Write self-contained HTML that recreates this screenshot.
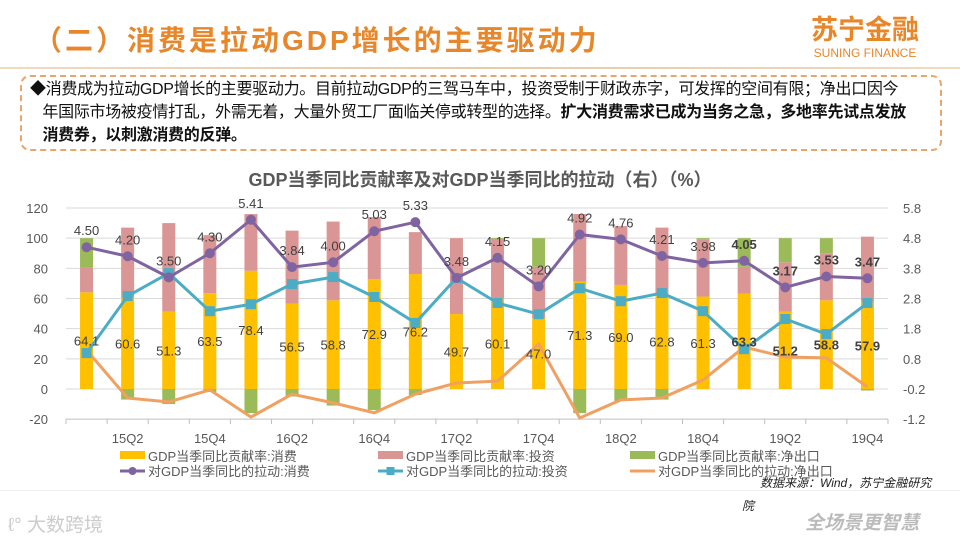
<!DOCTYPE html>
<html><head><meta charset="utf-8"><style>
body{margin:0;width:960px;height:540px;background:#fff;overflow:hidden;font-family:"Liberation Sans","Noto Sans CJK SC",sans-serif;position:relative}
.t{position:absolute}
</style></head><body>
<div class="t" style="left:34px;top:19px;font-size:28px;font-weight:bold;color:#E8862A;letter-spacing:3px;font-family:'Liberation Sans','Noto Sans CJK SC',sans-serif">（二）消费是拉动GDP增长的主要驱动力</div>
<div class="t" style="left:810px;top:14px;width:110px;text-align:center;color:#E8862A">
<div style="font-size:27px;font-weight:bold;line-height:32px">苏宁金融</div>
<div style="font-size:12px;line-height:14px">SUNING FINANCE</div></div>
<div class="t" style="left:0;top:67px;width:960px;height:2px;background:linear-gradient(90deg,#f3d9bf,#e9c8a6,#f3d9bf)"></div>
<div class="t" style="left:20px;top:75px;width:922px;height:76px;border:2px dashed #E8A66A;border-radius:10px;box-sizing:border-box"></div>
<div class="t" style="left:30px;top:78px;width:910px;font-size:16px;letter-spacing:-0.3px;line-height:23px;color:#111;white-space:nowrap">◆消费成为拉动GDP增长的主要驱动力。目前拉动GDP的三驾马车中，投资受制于财政赤字，可发挥的空间有限；净出口因今<br>&nbsp;&nbsp;&nbsp;年国际市场被疫情打乱，外需无着，大量外贸工厂面临关停或转型的选择。<b>扩大消费需求已成为当务之急，多地率先试点发放</b><br>&nbsp;&nbsp;&nbsp;<b>消费券，以刺激消费的反弹。</b></div>
<div class="t" style="left:0;top:166px;width:960px;text-align:center;font-size:18px;font-weight:bold;color:#595959">GDP当季同比贡献率及对GDP当季同比的拉动（右）（%）</div>
<svg id="chart" class="t" style="left:0;top:0" width="960" height="540"></svg>
<div class="t" style="left:760px;top:474px;font-size:12px;font-style:italic;color:#222">数据来源：Wind，苏宁金融研究</div>
<div class="t" style="left:742px;top:497px;font-size:12px;font-style:italic;color:#222">院</div>
<div class="t" style="left:0;top:490px;width:960px;height:1px;background:#eee"></div>
<div class="t" style="left:8px;top:510px;font-size:19px;color:#ccc">ℓ° 大数跨境</div>
<div class="t" style="left:805px;top:508px;font-size:19px;font-weight:bold;font-style:italic;color:#bbb">全场景更智慧</div>
<script>
const categories=["15Q1","15Q2","15Q3","15Q4","16Q1","16Q2","16Q3","16Q4","17Q1","17Q2","17Q3","17Q4","18Q1","18Q2","18Q3","18Q4","19Q1","19Q2","19Q3","19Q4"];
const consContrib=[64.1,60.6,51.3,63.5,78.4,56.5,58.8,72.9,76.2,49.7,60.1,47.0,71.3,69.0,62.8,61.3,63.3,51.2,58.8,57.9];
const invContrib=[16.5,46.4,58.7,38.5,37.6,48.5,52.2,41.1,27.8,50.3,39.0,34.0,44.7,39.0,44.2,37.7,17.7,32.8,31.2,43.1];
const netContrib=[19.4,-7,-10,-2,-16,-5,-11,-14,-4,0,0.9,19,-16,-8,-7,1,19,16,10,-1];
const consPull=[4.50,4.20,3.50,4.30,5.41,3.84,4.00,5.03,5.33,3.48,4.15,3.20,4.92,4.76,4.21,3.98,4.05,3.17,3.53,3.47];
const invPull=[0.99,2.88,3.64,2.38,2.61,3.28,3.51,2.85,1.99,3.48,2.65,2.28,3.14,2.71,2.98,2.38,1.12,2.12,1.62,2.65];
const netPull=[1.09,-0.5,-0.63,-0.23,-1.13,-0.37,-0.66,-0.99,-0.37,0.0,0.06,1.29,-1.16,-0.56,-0.5,0.1,1.19,0.86,0.83,-0.13];
const leftTicks=[-20,0,20,40,60,80,100,120];
const rightTicks=["-1.2","-0.2","0.8","1.8","2.8","3.8","4.8","5.8"];
const boldFrom=16;

const svg=document.getElementById('chart');const NS='http://www.w3.org/2000/svg';
const X0=66,BW=41.1,yL=v=>389-v*1.5083,yR=v=>yL((v+0.2)*20);
const xc=i=>X0+BW*(i+0.5);
function mk(tag,at,txt){const e=document.createElementNS(NS,tag);for(const k in at)e.setAttribute(k,at[k]);if(txt!=null)e.textContent=txt;svg.appendChild(e);return e;}
leftTicks.forEach((t,i)=>{
 const g=mk('line',{x1:X0,x2:888,y1:yL(t),y2:yL(t),stroke:t===-20?'#bfbfbf':'#d9d9d9','stroke-width':1});
 
 
 const l=mk('text',{x:48,y:yL(t)+5,'text-anchor':'end','font-size':13,fill:'#595959'},String(t));
 
 
 const r=mk('text',{x:903,y:yL(t)+5,'font-size':13,fill:'#595959'},rightTicks[i]);
 
 
});
for(let i=0;i<=20;i++){const tk=mk('line',{x1:X0+BW*i,x2:X0+BW*i,y1:yL(-20),y2:yL(-20)+5,stroke:'#bfbfbf'});}
categories.forEach((c,i)=>{
 if(i%2===1){const t=mk('text',{x:xc(i),y:443,'text-anchor':'middle','font-size':13,fill:'#595959'},c);}
 const w=13,x=xc(i)-w/2;
 const c1=consContrib[i],c2=invContrib[i],c3=netContrib[i];
 const b1=mk('rect',{x:x,y:yL(c1),width:w,height:yL(0)-yL(c1),fill:'#FFC000'});
 
 
 const b2=mk('rect',{x:x,y:yL(c1+c2),width:w,height:yL(c1)-yL(c1+c2),fill:'#D99694'});
 
 
 let top=c3>=0?c1+c2+c3:0,bot=c3>=0?c1+c2:c3;
 const b3=mk('rect',{x:x,y:yL(top),width:w,height:yL(bot)-yL(top),fill:'#9BBB59'});
 
 
});
function line(arr,color,marker,name){
 const p=mk('polyline',{points:arr.map((v,i)=>xc(i)+','+yR(v)).join(' '),fill:'none',stroke:color,'stroke-width':3,'stroke-linejoin':'round'});
 
 
 if(marker)arr.forEach((v,i)=>{
  const m=marker==='c'?mk('circle',{cx:xc(i),cy:yR(v),r:5,fill:color}):mk('rect',{x:xc(i)-5,y:yR(v)-5,width:10,height:10,fill:color});
  
  
 });
}
line(netPull,'#F0A060',null,'line-net-export-pull');
line(invPull,'#4BACC6','s','line-investment-pull');
line(consPull,'#8064A2','c','line-consumption-pull');
consContrib.forEach((v,i)=>{
 const t=mk('text',{x:xc(i),y:yL(v/2)+5,'text-anchor':'middle','font-size':13,fill:'#404040','font-weight':i>=boldFrom?'bold':'normal'},v.toFixed(1));
 
 
});
consPull.forEach((v,i)=>{
 const t=mk('text',{x:xc(i),y:yR(v)-12,'text-anchor':'middle','font-size':13,fill:'#404040','font-weight':i>=boldFrom?'bold':'normal'},v.toFixed(2));
 
 
});
const legend=[["GDP当季同比贡献率:消费",'#FFC000','box',120,456],["GDP当季同比贡献率:投资",'#D99694','box',378,456],["GDP当季同比贡献率:净出口",'#9BBB59','box',630,456],["对GDP当季同比的拉动:消费",'#8064A2','c',120,471],["对GDP当季同比的拉动:投资",'#4BACC6','s',378,471],["对GDP当季同比的拉动:净出口",'#F0A060','l',630,471]];
legend.forEach(([txt,col,k,x,y])=>{
 if(k==='box'){const s=mk('rect',{x:x,y:y-5,width:25,height:8,fill:col});}
 else{const s=mk('line',{x1:x,x2:x+25,y1:y,y2:y,stroke:col,'stroke-width':3});
  if(k==='c')mk('circle',{cx:x+12.5,cy:y,r:4,fill:col});if(k==='s')mk('rect',{x:x+8.5,y:y-4,width:8,height:8,fill:col});}
 const t=mk('text',{x:x+28,y:y+5,'font-size':13,fill:'#595959'},txt);
 
 
});
</script>
</body></html>
